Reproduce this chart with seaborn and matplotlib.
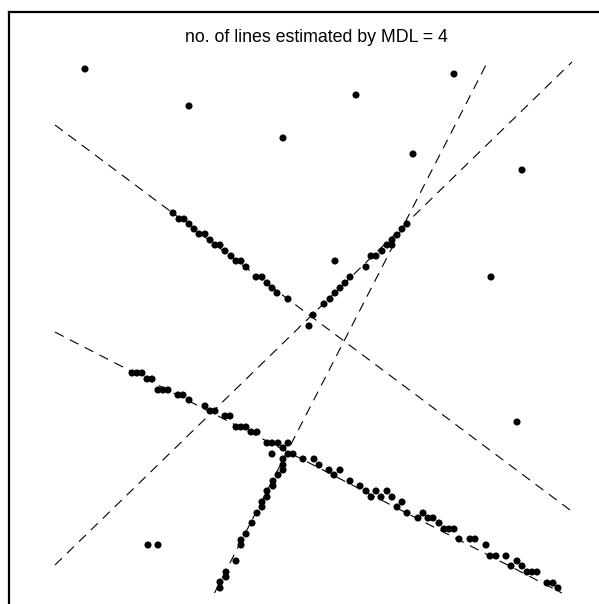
import numpy as np
import matplotlib
matplotlib.use("Agg")
import matplotlib.pyplot as plt
import seaborn as sns
import pandas as pd

sns.set_style("white")
plt.rcParams["font.family"] = ["Liberation Sans", "DejaVu Sans"]
plt.rcParams["lines.scale_dashes"] = False

# Points lying near the first descending line (upper left)
line1_x = [164, 170, 175, 180, 185, 190, 196, 201, 206, 211, 216, 222, 227, 232,
           237, 247, 253, 258, 263, 268, 279]
line1_y = [413, 407, 407, 402, 397, 392, 392, 386, 381, 381, 375, 370, 365, 365,
           359, 349, 349, 343, 338, 333, 327]

# Points near the shallow ascending line
line2_x = [304, 315, 321, 326, 331, 336, 341, 357, 362, 367, 373, 378, 383, 383,
           388, 393, 398]
line2_y = [311, 322, 327, 333, 338, 343, 349, 359, 370, 370, 375, 381, 381, 386,
           391, 397, 402]

# Points near the lower descending line
line3_x = [123, 128, 133, 138, 143, 149, 154, 159, 169, 174, 180, 196, 201, 206,
           216, 221, 227, 232, 237, 242, 248, 258, 263, 269, 274, 263, 279, 284,
           294, 305, 310, 320, 325, 331, 341, 351, 357, 362, 367, 372, 378, 383,
           388, 393, 398, 409, 414, 419, 424, 430, 435, 440, 445, 450, 461, 466,
           477, 481, 487, 497, 502, 508, 513, 518, 523, 528, 538, 544, 549]
line3_y = [253, 253, 253, 247, 247, 236, 236, 236, 231, 231, 226, 220, 215, 215,
           210, 210, 199, 199, 199, 194, 194, 183, 183, 183, 178, 172, 172, 172,
           167, 167, 161, 156, 151, 156, 145, 140, 135, 129, 135, 129, 135, 129,
           119, 124, 113, 108, 113, 108, 108, 103, 97, 97, 97, 87, 87, 87,
           81, 70, 70, 70, 60, 65, 60, 54, 54, 54, 43, 43, 38]

# Points near the steep ascending line
line4_x = [211, 211, 217, 217, 227, 232, 232, 237, 243, 248, 253, 253, 258, 258,
           264, 264, 269, 274, 274, 274, 279]
line4_y = [38, 44, 49, 54, 65, 81, 86, 92, 103, 113, 119, 124, 129, 135,
           140, 145, 151, 156, 161, 167, 183]

# Scattered background points
noise_x = [76, 180, 274, 347, 445, 404, 513, 326, 482, 508, 139, 149, 300]
noise_y = [557, 520, 488, 531, 552, 472, 456, 365, 349, 204, 81, 81, 300]

# Fitted lines: slope and intercept
line_slopes = [-0.7476, 0.9728, -0.5147, 1.945]
line_intercepts = [535.4, 16.3, 317.6, -366.7]

# Region in which the fitted lines are drawn
box_x = (46, 565)
box_y = (33, 564)

n_lines = 4
title = f"no. of lines estimated by MDL = {n_lines}"

points = pd.DataFrame({
    "x": line1_x + line2_x + line3_x + line4_x + noise_x,
    "y": line1_y + line2_y + line3_y + line4_y + noise_y,
})

W, H = 599, 604
fig = plt.figure(figsize=(W / 100, H / 100), dpi=100)
ax_px = 614
ax = fig.add_axes([9 / W, (H - 12 - ax_px) / H, ax_px / W, ax_px / H])

sns.scatterplot(data=points, x="x", y="y", ax=ax, color="black", s=26,
                linewidth=0, edgecolor="none", legend=False)


def clipped_segment(m, b):
    xs = []
    for x in box_x:
        y = m * x + b
        if box_y[0] <= y <= box_y[1]:
            xs.append(x)
    for y in box_y:
        x = (y - b) / m
        if box_x[0] <= x <= box_x[1]:
            xs.append(x)
    xs = sorted(xs)[:1] + sorted(xs)[-1:]
    xs = np.array(xs)
    return xs, m * xs + b


for m, b in zip(line_slopes, line_intercepts):
    xs, ys = clipped_segment(m, b)
    ax.plot(xs, ys, color="black", linewidth=0.8, linestyle=(0, (7, 5)))

ax.set_xlim(0, ax_px)
ax.set_ylim(0, ax_px)
ax.set_xticks([])
ax.set_yticks([])
ax.set_xlabel("")
ax.set_ylabel("")
for side in ["left", "top", "right", "bottom"]:
    ax.spines[side].set_visible(True)
    ax.spines[side].set_color("black")
    ax.spines[side].set_linewidth(1.6)

ax.text(0.5, 1 - 25 / ax_px, title, transform=ax.transAxes,
        ha="center", va="center", fontsize=12.8, color="black")

fig.savefig("out.png", dpi=100)
